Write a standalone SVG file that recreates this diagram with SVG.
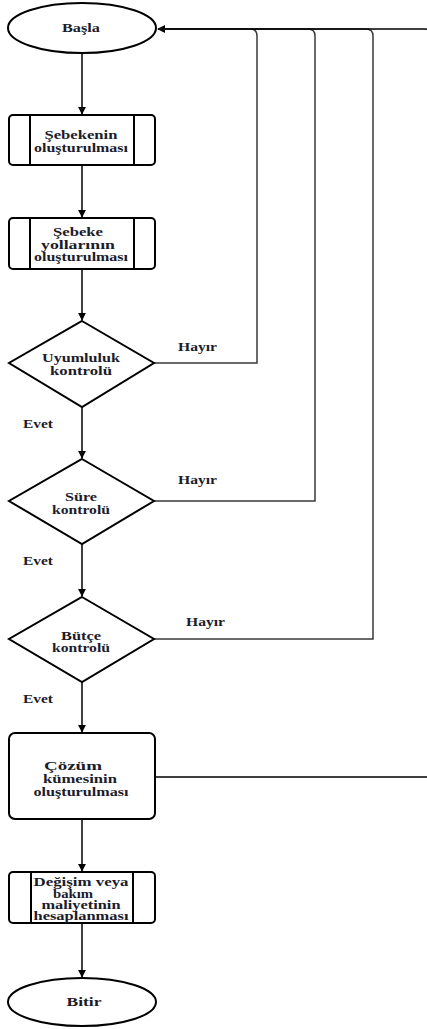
<svg xmlns="http://www.w3.org/2000/svg" width="427" height="1029" viewBox="0 0 427 1029">
  <style>
    .shape { fill: #fff; stroke: #000; stroke-width: 2; }
    .inner { fill: none; stroke: #000; stroke-width: 2; }
    .edge { fill: none; stroke: #000; stroke-width: 1.5; }
    .loop { fill: none; stroke: #3a3a3a; stroke-width: 1.5; }
    text { font-family: "Liberation Serif", "Times New Roman", serif; font-weight: bold; font-size: 11.5px; fill: #1c1c2a; }
    .c { text-anchor: middle; }
  </style>
  <defs>
    <marker id="arrow" viewBox="0 0 10 10" refX="9" refY="5" markerWidth="5.5" markerHeight="5.5" orient="auto" markerUnits="strokeWidth">
      <path d="M0,0 L10,5 L0,10 z" fill="#000"/>
    </marker>
  </defs>
  <rect width="427" height="1029" fill="#fff"/>

  <g id="connectors">
    <line class="edge" x1="82" y1="53" x2="82" y2="114" marker-end="url(#arrow)"/>
    <line class="edge" x1="82" y1="165" x2="82" y2="217" marker-end="url(#arrow)"/>
    <line class="edge" x1="82" y1="269" x2="82" y2="320" marker-end="url(#arrow)"/>
    <line class="edge" x1="82" y1="407" x2="82" y2="458" marker-end="url(#arrow)"/>
    <line class="edge" x1="82" y1="544" x2="82" y2="596" marker-end="url(#arrow)"/>
    <line class="edge" x1="82" y1="682" x2="82" y2="732" marker-end="url(#arrow)"/>
    <line class="edge" x1="82" y1="819" x2="82" y2="871" marker-end="url(#arrow)"/>
    <line class="edge" x1="82" y1="923" x2="82" y2="977" marker-end="url(#arrow)"/>
    <!-- "Hayır" branches return to the start node -->
    <path class="loop" d="M154,363 H257 V36 Q257,29 250,29 H158" marker-end="url(#arrow)"/>
    <path class="loop" d="M154,501 H315 V36 Q315,29 308,29 H158"/>
    <path class="loop" d="M154,639 H373 V36 Q373,29 366,29 H158"/>
    <path class="edge" d="M155,777 H432 V36 Q432,29 425,29 H158"/>
    <text x="178" y="351" textLength="39" lengthAdjust="spacingAndGlyphs">Hayır</text>
    <text x="178" y="484" textLength="39" lengthAdjust="spacingAndGlyphs">Hayır</text>
    <text x="186" y="626" textLength="39" lengthAdjust="spacingAndGlyphs">Hayır</text>
    <text x="23" y="428" textLength="30" lengthAdjust="spacingAndGlyphs">Evet</text>
    <text x="23" y="565" textLength="30" lengthAdjust="spacingAndGlyphs">Evet</text>
    <text x="23" y="703" textLength="30" lengthAdjust="spacingAndGlyphs">Evet</text>
  </g>

  <g id="basla">
    <ellipse class="shape" cx="82" cy="28" rx="74" ry="25"/>
    <text class="c" x="81" y="32" textLength="38" lengthAdjust="spacingAndGlyphs">Başla</text>
  </g>

  <g id="sebekenin-olusturulmasi">
    <rect class="shape" x="9" y="115" width="146" height="50" rx="4"/>
    <line class="inner" x1="30" y1="115" x2="30" y2="165"/>
    <line class="inner" x1="134" y1="115" x2="134" y2="165"/>
    <text class="c" x="81" y="139" textLength="73" lengthAdjust="spacingAndGlyphs">Şebekenin</text>
    <text class="c" x="81" y="152" textLength="94" lengthAdjust="spacingAndGlyphs">oluşturulması</text>
  </g>

  <g id="sebeke-yollarinin-olusturulmasi">
    <rect class="shape" x="9" y="218" width="146" height="51" rx="4"/>
    <line class="inner" x1="30" y1="218" x2="30" y2="269"/>
    <line class="inner" x1="134" y1="218" x2="134" y2="269"/>
    <text class="c" x="78" y="236" textLength="50" lengthAdjust="spacingAndGlyphs">Şebeke</text>
    <text class="c" x="78" y="249" textLength="74" lengthAdjust="spacingAndGlyphs">yollarının</text>
    <text class="c" x="81" y="261" textLength="94" lengthAdjust="spacingAndGlyphs">oluşturulması</text>
  </g>

  <g id="uyumluluk-kontrolu">
    <polygon class="shape" points="82,321 154,363 82,407 9,363"/>
    <text class="c" x="81" y="362" textLength="78" lengthAdjust="spacingAndGlyphs">Uyumluluk</text>
    <text class="c" x="81" y="375" textLength="62" lengthAdjust="spacingAndGlyphs">kontrolü</text>
  </g>

  <g id="sure-kontrolu">
    <polygon class="shape" points="82,459 154,501 82,544 9,501"/>
    <text class="c" x="81" y="501" textLength="32" lengthAdjust="spacingAndGlyphs">Süre</text>
    <text class="c" x="81" y="514" textLength="58" lengthAdjust="spacingAndGlyphs">kontrolü</text>
  </g>

  <g id="butce-kontrolu">
    <polygon class="shape" points="82,597 154,639 82,682 9,639"/>
    <text class="c" x="81" y="640" textLength="40" lengthAdjust="spacingAndGlyphs">Bütçe</text>
    <text class="c" x="81" y="652" textLength="58" lengthAdjust="spacingAndGlyphs">kontrolü</text>
  </g>

  <g id="cozum-kumesinin-olusturulmasi">
    <rect class="shape" x="9" y="733" width="146" height="86" rx="6"/>
    <text class="c" x="73" y="770" textLength="58" lengthAdjust="spacingAndGlyphs">Çözüm</text>
    <text class="c" x="80" y="783" textLength="74" lengthAdjust="spacingAndGlyphs">kümesinin</text>
    <text class="c" x="81" y="796" textLength="95" lengthAdjust="spacingAndGlyphs">oluşturulması</text>
  </g>

  <g id="maliyet-hesaplanmasi">
    <rect class="shape" x="9" y="872" width="146" height="51" rx="4"/>
    <line class="inner" x1="31" y1="872" x2="31" y2="923"/>
    <line class="inner" x1="133" y1="872" x2="133" y2="923"/>
    <text class="c" x="81" y="886" textLength="95" lengthAdjust="spacingAndGlyphs">Değişim veya</text>
    <text class="c" x="73" y="898" textLength="40" lengthAdjust="spacingAndGlyphs">bakım</text>
    <text class="c" x="81" y="909" textLength="79" lengthAdjust="spacingAndGlyphs">maliyetinin</text>
    <text class="c" x="81" y="920" textLength="95" lengthAdjust="spacingAndGlyphs">hesaplanması</text>
  </g>

  <g id="bitir">
    <ellipse class="shape" cx="82" cy="1002" rx="74" ry="24"/>
    <text class="c" x="84" y="1006" textLength="35" lengthAdjust="spacingAndGlyphs">Bitir</text>
  </g>
</svg>
